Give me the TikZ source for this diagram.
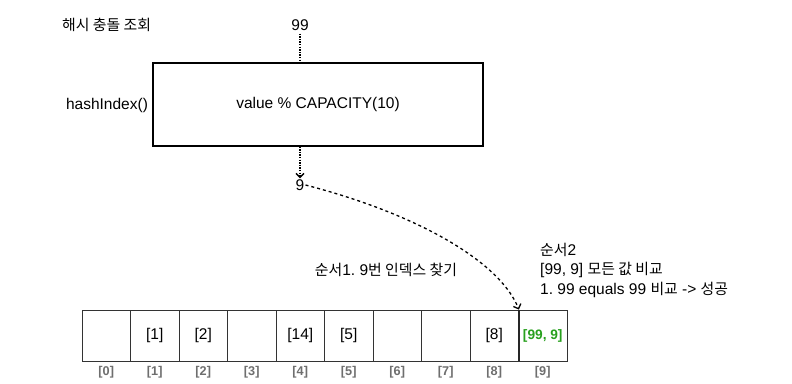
\documentclass[tikz,border=0pt]{standalone}
\usepackage{fontspec}
\setmainfont{Liberation Sans}
\newfontfamily\krfont{Noto Sans CJK KR}[Scale=0.96]
\newcommand{\hangul}[1]{{\krfont #1}}
\usetikzlibrary{arrows.meta}
\definecolor{idxgray}{RGB}{110,110,110}
\definecolor{hitgreen}{RGB}{40,160,30}
\frenchspacing

\begin{document}
\begin{tikzpicture}[x=1pt,y=-1pt]
\tikzstyle{every node}+=[inner sep=0pt]
\tikzstyle{txt}=[font=\fontsize{15.5}{19.5}\selectfont]
\tikzstyle{cell}=[draw=black!80, line width=0.8pt, minimum width=48.5pt, minimum height=51pt, txt]
\tikzstyle{idx}=[font=\bfseries\fontsize{12.7}{15}\selectfont, text=idxgray]
\tikzstyle{flow}=[line width=1.4pt, dash pattern=on 1.4pt off 1.2pt]
\tikzstyle{hop}=[line width=1.3pt, dash pattern=on 3pt off 3pt]
\tikzstyle{tip}=[-{Straight Barb[length=4pt,width=8pt]}]
\useasboundingbox (0,0) rectangle (792,383);
% title and input
\node[txt, anchor=west] (title) at (62,25) {\hangul{해시 충돌 조회}};
\node[txt] (key) at (300,25) {99};
% hash function
\node[draw, line width=2pt, minimum width=330pt, minimum height=83pt, txt] (hash) at (318,104) {value \% CAPACITY(10)};
\node[txt] (fname) at (107,105) {hashIndex()};
\node[txt, inner sep=1pt] (nine) at (300,185) {9};
\draw[flow] (key.south) ++(0,3) -- (key.south |- hash.north);
\draw[flow, tip] (hash.south -| nine) -- (nine.north);
% array
\foreach \i/\val in {0/{},1/{[1]},2/{[2]},3/{},4/{[14]},5/{[5]},6/{},7/{},8/{[8]}} {
  \node[cell] (c\i) at (106.25+48.5*\i,335.5) {\val};
}
\node[cell, font=\bfseries\fontsize{13.7}{16}\selectfont, text=hitgreen] (c9) at (542.75,335.5) {[99, 9]};
\draw[line width=1.3pt, black!85] (c8.north east) -- (c8.south east);
\foreach \i in {0,...,9}
  \node[idx] (i\i) at (106.25+48.5*\i,372.5) {[\i]};
% steps
\node[txt] (step1) at (386,270) {\hangul{순서}1. 9\hangul{번 인덱스 찾기}};
\node[txt, anchor=west, align=left] (step2) at (540,270) {\hangul{순서}2\\{}[99, 9] \hangul{모든 값 비교}\\{}1. 99 equals 99 \hangul{비교} -> \hangul{성공}};
\draw[hop, tip] (nine.east) .. controls +(112,29) and +(-19,-48) .. (c8.north east);
\end{tikzpicture}
\end{document}
